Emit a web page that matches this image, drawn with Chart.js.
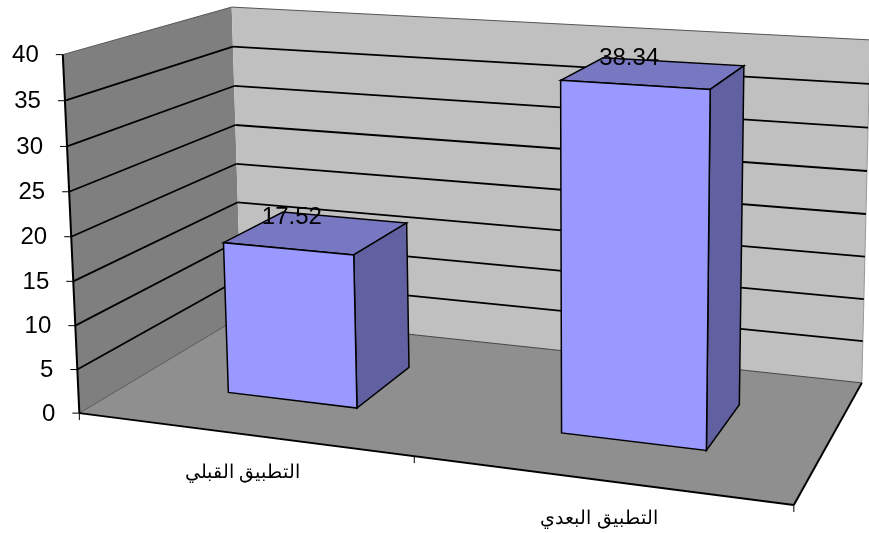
<!DOCTYPE html>
<html lang="ar">
<head>
<meta charset="UTF-8">
<title>3D column chart</title>
<script src="https://cdn.jsdelivr.net/npm/chart.js"></script>
<style>
  html, body { margin: 0; padding: 0; background: #fff; }
  canvas { display: block; }
</style>
</head>
<body>
<canvas id="chart" width="869" height="533"></canvas>
<script>
// data
const categories = ['التطبيق القبلي', 'التطبيق البعدي'];
const seriesValues = [17.52, 38.34];
const axisMax = 40;
const axisStep = 5;

// where the corners of the 3d box land on the page: [u, value share, depth] -> [x, y]
const boxCorners = [
  [0, 0, 0, 82, 410], [0, 1, 0, 59, 57], [0, 0, 1, 238, 319], [0, 1, 1, 236, 5],
  [1, 0, 1, 862, 382], [1, 1, 1, 869, 40], [1, 0, 0, 795, 506]
];
const barDepthFront = 0.30;
const barDepthBack = 0.69;
const barShift = 0.004; // bars sit slightly right of the band centre

// fit the camera matrix to the corners (least squares, last term fixed to 1)
function fitCamera(corners) {
  const rows = [], rhs = [];
  corners.forEach(([X, Y, Z, x, y]) => {
    const px = x / 1000, py = y / 1000;
    rows.push([X, Y, Z, 1, 0, 0, 0, 0, -px * X, -px * Y, -px * Z]); rhs.push(px);
    rows.push([0, 0, 0, 0, X, Y, Z, 1, -py * X, -py * Y, -py * Z]); rhs.push(py);
  });
  const n = 11;
  const m = [];
  for (let i = 0; i < n; i++) {
    m.push([]);
    for (let j = 0; j < n; j++) m[i].push(rows.reduce((s, r) => s + r[i] * r[j], 0));
    m[i].push(rows.reduce((s, r, k) => s + r[i] * rhs[k], 0));
  }
  for (let c = 0; c < n; c++) {
    let best = c;
    for (let r = c + 1; r < n; r++) if (Math.abs(m[r][c]) > Math.abs(m[best][c])) best = r;
    [m[c], m[best]] = [m[best], m[c]];
    for (let r = 0; r < n; r++) {
      if (r === c) continue;
      const f = m[r][c] / m[c][c];
      for (let k = c; k <= n; k++) m[r][k] -= f * m[c][k];
    }
  }
  return m.map((row, i) => row[n] / row[i]);
}
const cam = fitCamera(boxCorners);

function project(u, v, z) {
  const w = cam[8] * u + cam[9] * v + cam[10] * z + 1;
  return {
    x: 1000 * (cam[0] * u + cam[1] * v + cam[2] * z + cam[3]) / w,
    y: 1000 * (cam[4] * u + cam[5] * v + cam[6] * z + cam[7]) / w
  };
}

function poly(ctx, pts, fill, stroke, lw) {
  ctx.beginPath();
  pts.forEach((p, i) => i ? ctx.lineTo(p.x, p.y) : ctx.moveTo(p.x, p.y));
  ctx.closePath();
  if (fill) { ctx.fillStyle = fill; ctx.fill(); }
  if (stroke) { ctx.strokeStyle = stroke; ctx.lineWidth = lw; ctx.stroke(); }
}

function line(ctx, a, b, color, lw) {
  ctx.beginPath();
  ctx.moveTo(a.x, a.y);
  ctx.lineTo(b.x, b.y);
  ctx.strokeStyle = color;
  ctx.lineWidth = lw;
  ctx.stroke();
}

// chart.js lays out scales and bars, this plugin projects them into the 3d box
const box3d = {
  id: 'box3d',
  beforeDatasetsDraw(chart) {
    const { ctx, chartArea: area, scales } = chart;
    const yScale = scales.y, xScale = scales.x;
    const share = val => (val - yScale.min) / (yScale.max - yScale.min);
    const uOf = px => (px - area.left) / area.width;

    ctx.save();
    // walls and floor
    poly(ctx, [project(0, 0, 0), project(0, 1, 0), project(0, 1, 1), project(0, 0, 1)], '#7f7f7f');
    poly(ctx, [project(0, 0, 1), project(0, 1, 1), project(1, 1, 1), project(1, 0, 1)], '#c0c0c0');
    poly(ctx, [project(0, 0, 0), project(0, 0, 1), project(1, 0, 1), project(1, 0, 0)], '#8f8f8f');
    line(ctx, project(0, 1, 0), project(0, 1, 1), '#555', 1);
    line(ctx, project(0, 1, 1), project(1, 1, 1), '#555', 1);
    line(ctx, project(1, 1, 1), project(1, 0, 1), '#999', 1);
    line(ctx, project(0, 0, 0), project(0, 0, 1), '#555', 1);
    line(ctx, project(0, 0, 1), project(1, 0, 1), '#444', 1);

    // value grid and tick labels
    ctx.font = '24px "Liberation Sans", Arial, sans-serif';
    ctx.textAlign = 'right';
    ctx.textBaseline = 'middle';
    yScale.ticks.forEach(t => {
      const v = share(t.value);
      const a = project(0, v, 0);
      if (t.value > yScale.min && t.value < yScale.max) {
        const b = project(0, v, 1);
        line(ctx, a, b, '#000', 1.8);
        line(ctx, b, project(1, v, 1), '#000', 1.8);
      }
      line(ctx, { x: a.x - 7, y: a.y }, a, '#000', 1);
      ctx.fillStyle = '#000';
      ctx.fillText(t.label, a.x - 24, a.y + 1);
    });

    // axis lines
    line(ctx, project(0, 0, 0), project(0, 1, 0), '#000', 2);
    line(ctx, project(0, 0, 0), project(1, 0, 0), '#000', 2);
    line(ctx, project(1, 0, 0), project(1, 0, 1), '#000', 2);
    [0, 0.5, 1].forEach(u => {
      const p = project(u, 0, 0);
      line(ctx, p, { x: p.x, y: p.y + 7 }, '#000', 1);
    });

    // category labels
    ctx.font = '19px "Liberation Sans", Arial, sans-serif';
    ctx.textAlign = 'center';
    xScale.ticks.forEach((t, i) => {
      const p = project(uOf(xScale.getPixelForTick(i)), 0, 0);
      ctx.fillStyle = '#000';
      ctx.fillText(categories[t.value], p.x + 1, p.y + 39);
    });

    // bars
    const meta = chart.getDatasetMeta(0);
    const ds = chart.data.datasets[0];
    const z0 = barDepthFront, z1 = barDepthBack;
    meta.data.forEach(bar => {
      const l = uOf(bar.x - bar.width / 2) + barShift, r = uOf(bar.x + bar.width / 2) + barShift;
      const v = share(yScale.getValueForPixel(bar.y));
      poly(ctx, [project(l, v, z0), project(r, v, z0), project(r, v, z1), project(l, v, z1)], ds.topColor, '#000', 1.5);
      poly(ctx, [project(r, 0, z0), project(r, v, z0), project(r, v, z1), project(r, 0, z1)], ds.sideColor, '#000', 1.5);
      poly(ctx, [project(l, 0, z0), project(l, v, z0), project(r, v, z0), project(r, 0, z0)], ds.backgroundColor, '#000', 1.5);
    });

    // value labels
    ctx.font = '24px "Liberation Sans", Arial, sans-serif';
    ctx.textAlign = 'center';
    meta.data.forEach((bar, i) => {
      const v = share(yScale.getValueForPixel(bar.y));
      const p = project(uOf(bar.x) + barShift, v, (z0 + z1) / 2);
      ctx.fillStyle = '#000';
      ctx.fillText(seriesValues[i].toFixed(2), p.x - 25, p.y - 15);
    });
    ctx.restore();
    return false;
  }
};

new Chart(document.getElementById('chart'), {
  type: 'bar',
  data: {
    labels: categories,
    datasets: [{
      data: seriesValues,
      backgroundColor: '#9999ff',
      topColor: '#7777c2',
      sideColor: '#6161a2',
      barPercentage: 0.40,
      categoryPercentage: 1
    }]
  },
  options: {
    responsive: false,
    animation: false,
    layout: { padding: 0 },
    plugins: { legend: { display: false }, tooltip: { enabled: false } },
    scales: {
      x: { display: false },
      y: { display: false, min: 0, max: axisMax, ticks: { stepSize: axisStep } }
    }
  },
  plugins: [box3d]
});
</script>
</body>
</html>
